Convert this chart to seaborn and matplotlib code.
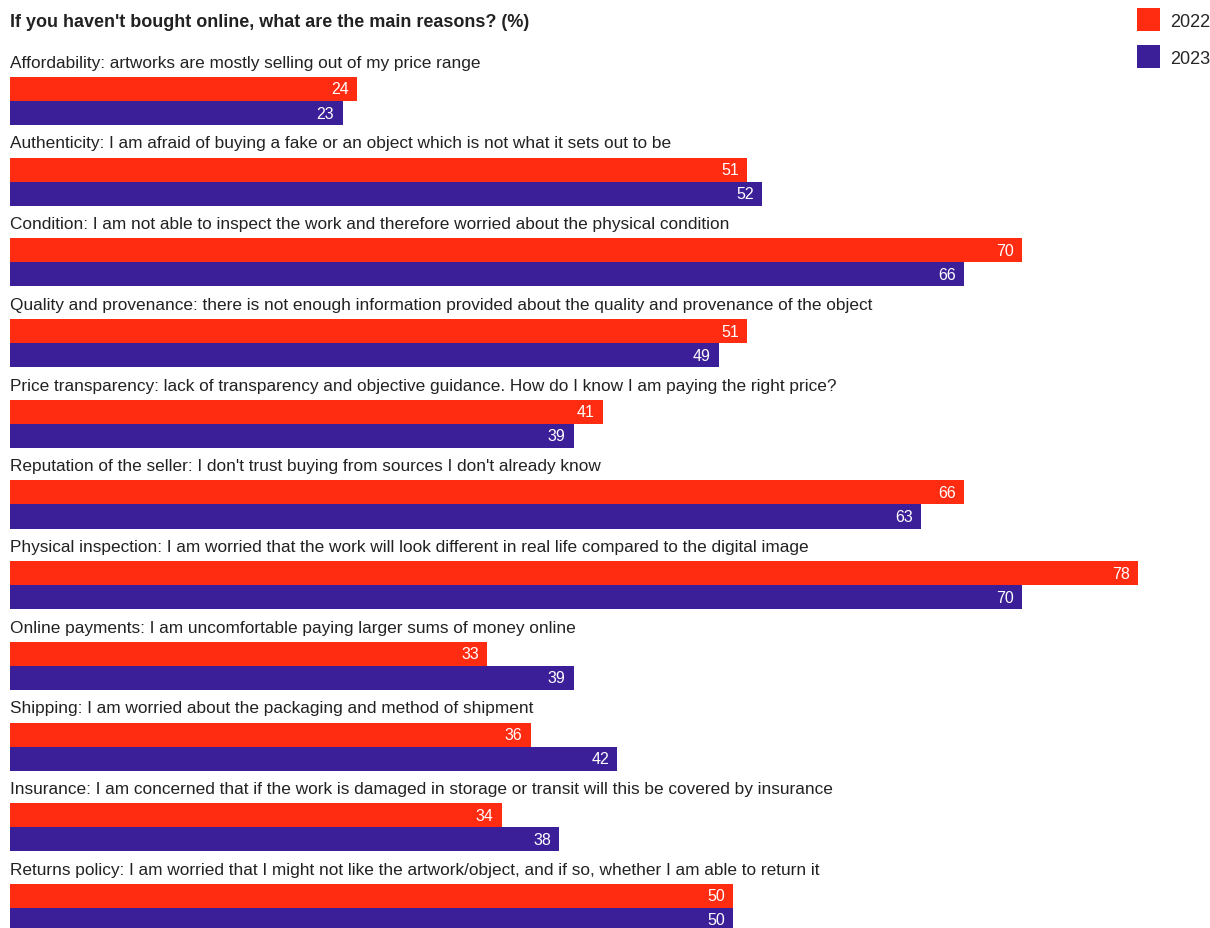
import pandas as pd
import matplotlib.pyplot as plt
import seaborn as sns

reasons = [
    "Affordability: artworks are mostly selling out of my price range",
    "Authenticity: I am afraid of buying a fake or an object which is not what it sets out to be",
    "Condition: I am not able to inspect the work and therefore worried about the physical condition",
    "Quality and provenance: there is not enough information provided about the quality and provenance of the object",
    "Price transparency: lack of transparency and objective guidance. How do I know I am paying the right price?",
    "Reputation of the seller: I don't trust buying from sources I don't already know",
    "Physical inspection: I am worried that the work will look different in real life compared to the digital image",
    "Online payments: I am uncomfortable paying larger sums of money online",
    "Shipping: I am worried about the packaging and method of shipment",
    "Insurance: I am concerned that if the work is damaged in storage or transit will this be covered by insurance",
    "Returns policy: I am worried that I might not like the artwork/object, and if so, whether I am able to return it",
]
values_2022 = [24, 51, 70, 51, 41, 66, 78, 33, 36, 34, 50]
values_2023 = [23, 52, 66, 49, 39, 63, 70, 39, 42, 38, 50]
years = ["2022", "2023"]
colors = ["#FF2C12", "#3B1F98"]

df = pd.DataFrame({
    "reason": reasons * 2,
    "year": [years[0]] * len(reasons) + [years[1]] * len(reasons),
    "value": values_2022 + values_2023,
})

sns.set_style("white")
plt.rcParams["font.family"] = ["Liberation Sans", "DejaVu Sans"]

fig = plt.figure(figsize=(12.1, 9.29), dpi=100)
ax = fig.add_axes([10 / 1210, 0, 1200 / 1210, 1])
sns.barplot(data=df, y="reason", x="value", hue="year", hue_order=years,
            palette=colors, orient="h", width=0.595, saturation=1,
            linewidth=0, ax=ax, legend=True)

ax.set_xlim(0, 1200 / 14.46)
ax.set_ylim(10.248, -1.264)
ax.axis("off")

# category labels above each pair of bars
for i, r in enumerate(reasons):
    ax.text(0, i - 0.48, r, ha="left", va="center", fontsize=12.4, color="#222222")

# values inside bar ends
for cont in ax.containers:
    for p in cont.patches:
        w = p.get_width()
        ax.annotate(f"{w:.0f}", (w, p.get_y() + p.get_height() / 2),
                    xytext=(-6, 0), textcoords="offset points",
                    ha="right", va="center", color="white", fontsize=11.5)

ax.text(0, -0.98, "If you haven't bought online, what are the main reasons? (%)",
        ha="left", va="center", fontsize=13, fontweight="bold", color="#222222")

leg = ax.legend(loc="upper left", bbox_to_anchor=(1127 / 1200, 0.99),
                frameon=False, fontsize=13, handlelength=1.274, handleheight=1.583,
                handletextpad=0.55, labelspacing=0.78, borderaxespad=0,
                borderpad=0)

fig.savefig("out.png", dpi=100)
